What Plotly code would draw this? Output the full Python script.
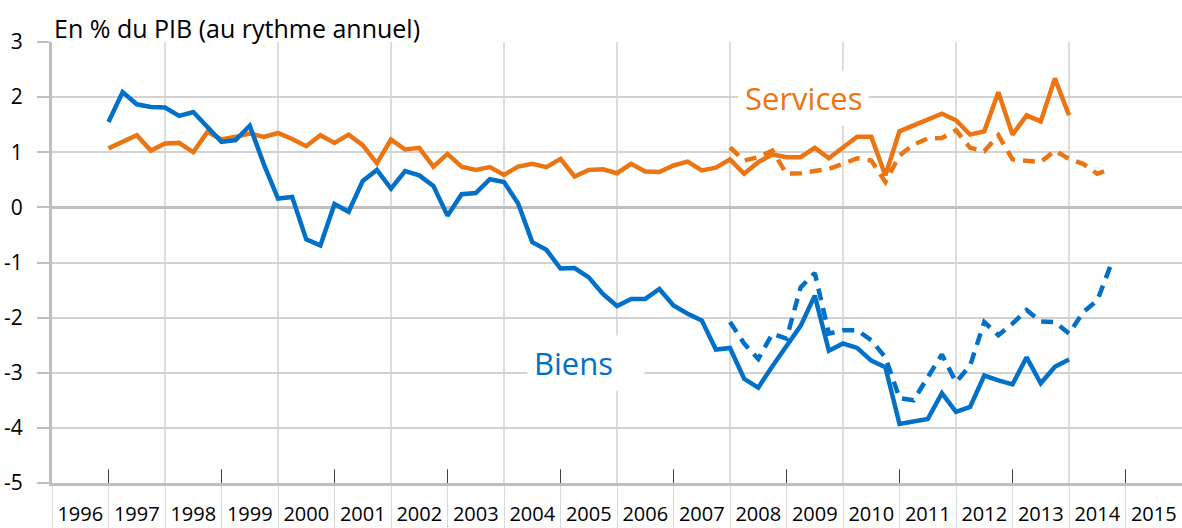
import plotly.graph_objects as go

# ---- data (quarterly) ----
years = list(range(1996, 2016))
start_year = 1997.0          # position of first quarterly observation
dashed_start_index = 44      # dashed series start at this quarter index

biens = [1.55, 2.09, 1.87, 1.82, 1.81, 1.66, 1.73, 1.46, 1.19, 1.22, 1.48, 0.78,
         0.16, 0.19, -0.58, -0.69, 0.06, -0.08, 0.48, 0.68, 0.34, 0.66, 0.58, 0.39,
         -0.15, 0.24, 0.26, 0.51, 0.46, 0.07, -0.63, -0.77, -1.11, -1.10, -1.27, -1.57,
         -1.79, -1.66, -1.66, -1.48, -1.78, -1.93, -2.05, -2.58, -2.55, -3.11, -3.27, -2.88,
         -2.52, -2.15, -1.60, -2.60, -2.47, -2.55, -2.78, -2.90, -3.93, -3.89, -3.84, -3.37,
         -3.71, -3.62, -3.05, -3.14, -3.21, -2.72, -3.19, -2.89, -2.76]

biens_dash = [-2.08, -2.47, -2.75, -2.29, -2.38, -1.45, -1.19, -2.29, -2.23, -2.23,
              -2.41, -2.72, -3.46, -3.50, -3.08, -2.67, -3.17, -2.87, -2.08, -2.32,
              -2.11, -1.86, -2.07, -2.08, -2.29, -1.90, -1.69, -1.02]

services = [1.07, 1.19, 1.31, 1.03, 1.16, 1.17, 1.00, 1.37, 1.23, 1.28, 1.34, 1.28,
            1.35, 1.24, 1.11, 1.31, 1.17, 1.32, 1.13, 0.80, 1.23, 1.05, 1.08, 0.74,
            0.97, 0.74, 0.68, 0.73, 0.59, 0.74, 0.79, 0.73, 0.88, 0.56, 0.68, 0.69,
            0.62, 0.79, 0.65, 0.64, 0.76, 0.83, 0.67, 0.72, 0.87, 0.61, 0.82, 0.96,
            0.91, 0.91, 1.08, 0.89, 1.08, 1.28, 1.28, 0.58, 1.38, 1.49, 1.59, 1.70,
            1.58, 1.32, 1.38, 2.09, 1.32, 1.67, 1.56, 2.34, 1.67]

services_dash = [1.09, 0.85, 0.91, 1.03, 0.61, 0.62, 0.66, 0.70, 0.79, 0.89, 0.85, 0.46,
                 0.94, 1.14, 1.25, 1.26, 1.40, 1.08, 1.02, 1.31, 0.87, 0.85, 0.82, 1.03,
                 0.88, 0.79, 0.61, 0.70]

y_ticks = [3, 2, 1, 0, -1, -2, -3, -4, -5]

# ---- styling ----
BLUE = "#0070C8"
ORANGE = "#EB7512"
GRID = "#D2D2D2"
AXIS = "#BFBFBF"
FONT = "Open Sans"

x_solid = [start_year + 0.25 * i for i in range(len(biens))]
x_dash = [start_year + 0.25 * (dashed_start_index + i) for i in range(len(biens_dash))]

fig = go.Figure()
lw = 4.5
fig.add_trace(go.Scatter(x=x_solid, y=services, mode="lines",
                         line=dict(color=ORANGE, width=lw), showlegend=False))
fig.add_trace(go.Scatter(x=x_dash, y=services_dash, mode="lines",
                         line=dict(color=ORANGE, width=lw, dash="12px,8px"), showlegend=False))
fig.add_trace(go.Scatter(x=x_solid, y=biens, mode="lines",
                         line=dict(color=BLUE, width=lw), showlegend=False))
fig.add_trace(go.Scatter(x=x_dash, y=biens_dash, mode="lines",
                         line=dict(color=BLUE, width=lw, dash="12px,8px"), showlegend=False))

shapes = []
# vertical gridlines every two years
for yr in years[2::2]:
    shapes.append(dict(type="line", xref="x", yref="y", x0=yr, x1=yr, y0=-5, y1=3,
                       line=dict(color=GRID, width=1.5), layer="below"))
# small dark inside ticks on odd years
for yr in years[1::2]:
    shapes.append(dict(type="line", xref="x", yref="y", x0=yr, x1=yr, y0=-5, y1=-4.75,
                       line=dict(color="#404040", width=1), layer="above"))

fig.update_layout(
    width=1182, height=528,
    margin=dict(l=52, r=0, t=42, b=45),
    paper_bgcolor="white", plot_bgcolor="white",
    font=dict(family=FONT, color="black", size=20),
    shapes=shapes,
    xaxis=dict(
        range=[1996, 2016], automargin=False,
        tickmode="array",
        tickvals=[yr + 0.5 for yr in years],
        ticktext=[str(yr) for yr in years],
        ticks="", showgrid=False, zeroline=False,
        showline=True, linecolor=AXIS, linewidth=3,
        ticklabelstandoff=11,
        tickfont=dict(size=20, family=FONT),
        minor=dict(tickmode="array", tickvals=years + [2016], ticks="outside",
                   ticklen=45, tickcolor="#D9D9D9", tickwidth=1, showgrid=False),
    ),
    yaxis=dict(
        range=[-5, 3], automargin=False,
        tickmode="array",
        tickvals=y_ticks,
        ticktext=[str(v) for v in y_ticks],
        showgrid=True, gridcolor=GRID, gridwidth=1.5,
        zeroline=True, zerolinecolor=AXIS, zerolinewidth=3,
        showline=True, linecolor=AXIS, linewidth=3,
        ticks="outside", ticklen=12, tickcolor=AXIS, tickwidth=1.5,
        ticklabelstandoff=10,
        tickfont=dict(size=21, family=FONT),
    ),
    annotations=[
        dict(text="En % du PIB (au rythme annuel)", xref="paper", yref="paper",
             x=0, y=1.0317, xanchor="left", yanchor="middle", showarrow=False,
             font=dict(size=25, family=FONT, color="black")),
        dict(text="Services", xref="x", yref="y", x=2009.30, y=1.98,
             xanchor="center", yanchor="middle", showarrow=False,
             bgcolor="white", borderpad=6,
             font=dict(size=31, family=FONT, color=ORANGE)),
        dict(text="Biens", xref="x", yref="y", x=2005.45, y=-2.82,
             xanchor="center", yanchor="middle", showarrow=False,
             bgcolor="white", borderpad=6, width=104, align="left",
             font=dict(size=31, family=FONT, color=BLUE)),
    ],
)

fig.write_html("out.html", config={"displayModeBar": False},
               post_script="document.body.style.margin='0';document.body.style.overflow='hidden';")
